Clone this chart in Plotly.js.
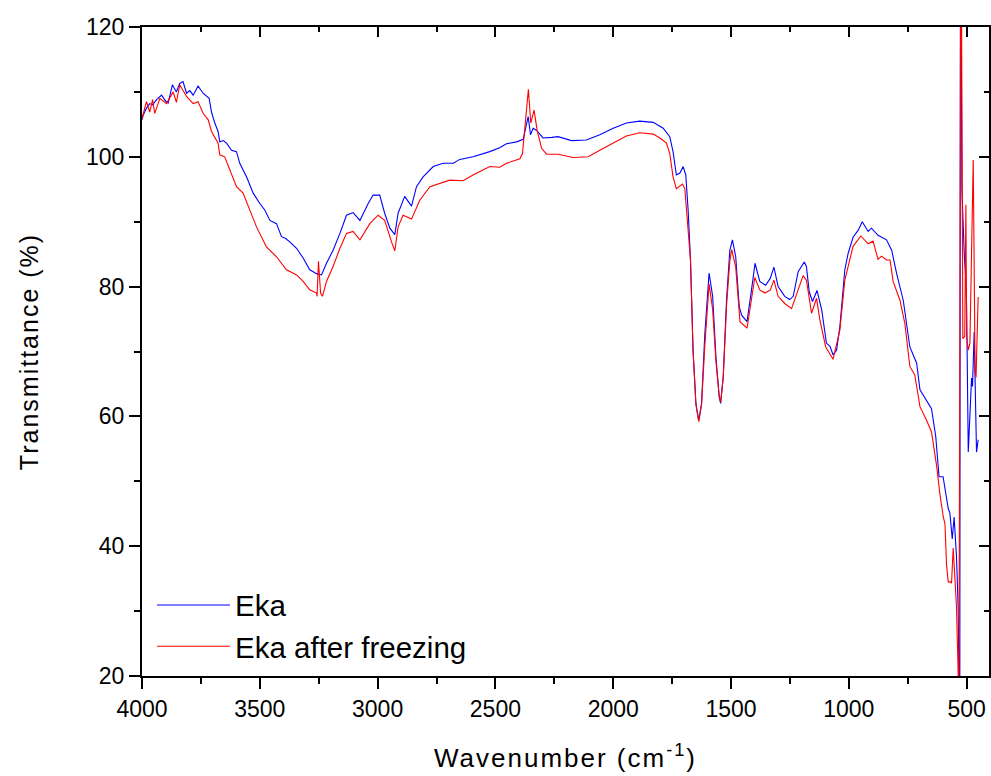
<!DOCTYPE html>
<html>
<head>
<meta charset="utf-8">
<script src="https://cdn.plot.ly/plotly-3.0.1.min.js"></script>
<style>
html,body{margin:0;padding:0;background:#fff;}
#chart{width:991px;height:776px;}
#chart text.ytitle, #chart text.xtitle{letter-spacing:2px;}
</style>
</head>
<body>
<div id="chart"></div>
<script>
// Eka (blue)
const ekaWavenumber = [4000,3995,3981,3967,3955,3938,3917,3900,3889,3871,3854,3840,3826,3811,3797,3783,3762,3741,3715,3705,3691,3677,3670,3655,3641,3620,3599,3585,3556,3528,3500,3479,3457,3429,3408,3390,3373,3344,3316,3288,3259,3238,3217,3189,3160,3132,3104,3075,3040,3019,2991,2970,2948,2927,2913,2885,2856,2835,2807,2764,2722,2679,2651,2595,2524,2482,2453,2410,2382,2371,2361,2351,2340,2326,2298,2260,2234,2177,2114,2057,2000,1944,1887,1830,1788,1760,1746,1732,1717,1703,1692,1682,1672,1661,1649,1637,1625,1611,1593,1578,1564,1550,1544,1533,1519,1505,1494,1480,1465,1455,1432,1413,1398,1378,1353,1333,1318,1300,1272,1251,1236,1215,1189,1180,1168,1154,1135,1115,1095,1080,1067,1052,1038,1017,1003,982,960,943,918,904,876,840,818,797,769,741,712,698,670,649,631,617,600,592,578,571,561,553,543,536,532,529,526,520,510,503,500,493,479,475,468,458,451];
const ekaTransmittance = [105.7,106.4,107.5,108.2,108.0,108.8,109.5,108.6,108.3,111.1,110.0,111.3,111.6,109.8,110.2,109.5,110.9,109.8,109.0,106.9,105.2,103.9,102.3,102.5,102.1,101.0,100.8,99.0,96.9,94.4,92.8,91.8,90.2,89.7,87.7,87.4,86.9,85.9,84.4,82.6,82.0,81.8,83.6,85.6,88.2,91.0,91.4,90.2,92.8,94.1,94.1,91.3,89.0,88.0,91.3,93.9,92.4,95.4,96.9,98.5,99.0,99.0,99.6,100.0,100.8,101.4,102.0,102.3,102.7,104.4,106.2,103.4,104.4,104.1,102.9,103.0,103.1,102.5,102.6,103.4,104.4,105.2,105.5,105.3,104.4,103.1,100.8,97.2,97.5,98.5,97.2,91.8,84.1,70.2,62.0,59.4,62.0,72.8,82.1,78.5,69.2,63.0,62.0,66.1,78.0,85.6,87.2,84.6,76.9,75.6,74.6,79.5,83.6,80.8,80.2,81.3,83.0,80.0,78.5,78.0,78.5,82.3,83.8,83.1,79.2,77.7,79.4,76.4,71.3,70.8,69.5,70.2,73.8,82.6,85.1,87.6,88.7,90.0,88.5,89.0,87.9,87.2,85.6,82.0,77.9,70.7,68.2,64.1,62.5,61.2,56.9,50.7,50.7,48.7,45.8,45.1,41.1,44.5,38.4,30.7,20.5,10,145,95,85,80.8,77,54.5,65.9,64.6,73,54.5,56.4];

// Eka after freezing (red)
const frozenWavenumber = [4000,3981,3967,3955,3946,3924,3896,3868,3854,3840,3811,3783,3762,3741,3719,3705,3677,3670,3649,3627,3599,3571,3542,3514,3472,3429,3387,3344,3316,3288,3259,3257,3251,3242,3234,3217,3189,3160,3132,3104,3075,3033,2998,2970,2941,2927,2913,2892,2856,2821,2778,2736,2694,2637,2595,2524,2482,2453,2396,2385,2371,2360,2350,2336,2323,2304,2283,2234,2170,2106,2057,2000,1944,1887,1830,1802,1774,1760,1746,1732,1706,1696,1682,1672,1661,1649,1637,1625,1611,1593,1578,1564,1550,1544,1533,1519,1505,1497,1480,1462,1432,1415,1399,1378,1356,1333,1318,1300,1272,1243,1225,1194,1180,1158,1137,1123,1098,1067,1038,1017,982,949,918,897,876,861,840,825,812,783,762,741,720,698,670,649,627,614,599,592,585,578,568,564,557,550,543,536,533,524,516,508,503,500,493,486,472,464,460,451];
const frozenTransmittance = [105.9,108.5,106.9,108.8,106.7,109.0,108.2,110.0,108.4,111.1,109.3,108.2,108.5,106.7,105.7,103.9,102.1,100.3,100.0,98.0,95.4,94.4,91.8,89.2,86.1,84.6,82.6,81.8,80.8,79.5,79.0,78.5,83.9,79.0,78.5,80.8,83.1,85.9,88.2,88.5,87.2,89.7,91.0,90.2,86.9,85.5,89.2,91.0,90.4,93.3,95.4,95.9,96.4,96.3,97.2,98.5,98.4,99.0,99.7,100.5,106.7,110.4,105.2,107.2,104.1,101.3,100.4,100.4,99.9,100.0,101.0,102.1,103.2,103.7,103.5,102.9,102.1,100.5,96.9,95.1,95.8,95.1,89.2,84.1,70.0,61.8,59.2,61.8,71.0,80.4,76.5,68.5,63.0,62.2,66.0,77.0,84.0,85.7,83.0,74.6,73.6,77.5,81.4,79.5,79.0,79.5,81.0,78.5,77.4,76.6,78.5,81.7,81.0,75.9,78.2,74.9,70.7,68.8,73.3,81.0,86.2,87.8,86.6,87.0,84.2,84.7,84.1,84.1,80.8,77.9,74.3,67.7,66.4,61.5,59.4,57.6,52.3,48.2,44.5,43.5,37.0,34.5,34.5,34.3,39.7,35.8,30.7,20.5,10,145,72,72.3,92.6,72.3,70.2,71.3,99.5,67,66,78.4];

const xTickVals = [4000,3500,3000,2500,2000,1500,1000,500];
const yTickVals = [20,40,60,80,100,120];
const seriesNames = ['Eka','Eka after freezing'];

const FONT = 'Liberation Sans, Arial, Helvetica, sans-serif';

const traces = [
  {x: ekaWavenumber, y: ekaTransmittance, type:'scatter', mode:'lines', name: seriesNames[0],
   line:{color:'#0000ff', width:1.1}},
  {x: frozenWavenumber, y: frozenTransmittance, type:'scatter', mode:'lines', name: seriesNames[1],
   line:{color:'#ff0000', width:1.1}},
  {x:[4000], y:[20], xaxis:'x2', yaxis:'y2', type:'scatter', mode:'lines', showlegend:false, hoverinfo:'skip', line:{width:0}}
];

const xr = [4000, 405];
const yr = [20, 120];

const layout = {
  width: 991, height: 776,
  margin: {l:142, r:2, t:27, b:100},
  paper_bgcolor:'#fff', plot_bgcolor:'#fff',
  font:{family:FONT, color:'#000'},
  showlegend: true,
  legend: {x:0.0118, xanchor:'left', y:0.149, yanchor:'top', bgcolor:'rgba(0,0,0,0)',
           font:{size:29.5, family:FONT, color:'#000'}, tracegroupgap:0, itemwidth:73},
  xaxis: {range: xr, tickvals: xTickVals, ticktext: xTickVals.map(String),
          ticks:'outside', ticklen:11, tickwidth:2, tickcolor:'#000',
          minor:{dtick:250, tick0:0, ticks:'outside', ticklen:6, tickwidth:2, tickcolor:'#000'},
          showline:true, linewidth:2, linecolor:'#000', showgrid:false, zeroline:false,
          tickfont:{size:23, family:FONT}, automargin:false,
          title:{text:'Wavenumber (cm<sup>-1</sup>)', font:{size:26, family:FONT}, standoff:28}},
  yaxis: {range: yr, tickvals: yTickVals,
          ticks:'outside', ticklen:11, tickwidth:2, tickcolor:'#000',
          minor:{dtick:10, tick0:0, ticks:'outside', ticklen:6, tickwidth:2, tickcolor:'#000'},
          showline:true, linewidth:2, linecolor:'#000', showgrid:false, zeroline:false,
          tickfont:{size:23, family:FONT}, automargin:false,
          title:{text:'Transmittance (%)', font:{size:25, family:FONT}, standoff:40}},
  xaxis2: {range: xr, overlaying:'x', side:'top', anchor:'y2', tickvals: xTickVals,
          ticks:'inside', ticklen:10, tickwidth:2, tickcolor:'#000', showticklabels:false,
          minor:{dtick:250, tick0:0, ticks:'inside', ticklen:5, tickwidth:2, tickcolor:'#000'},
          showline:true, linewidth:2, linecolor:'#000', showgrid:false, zeroline:false},
  yaxis2: {range: yr, overlaying:'y', side:'right', anchor:'x2', tickvals: yTickVals,
          ticks:'inside', ticklen:10, tickwidth:2, tickcolor:'#000', showticklabels:false,
          minor:{dtick:10, tick0:0, ticks:'inside', ticklen:5, tickwidth:2, tickcolor:'#000'},
          showline:true, linewidth:2, linecolor:'#000', showgrid:false, zeroline:false}
};

Plotly.newPlot('chart', traces, layout, {displayModeBar:false, staticPlot:true});
</script>
</body>
</html>
